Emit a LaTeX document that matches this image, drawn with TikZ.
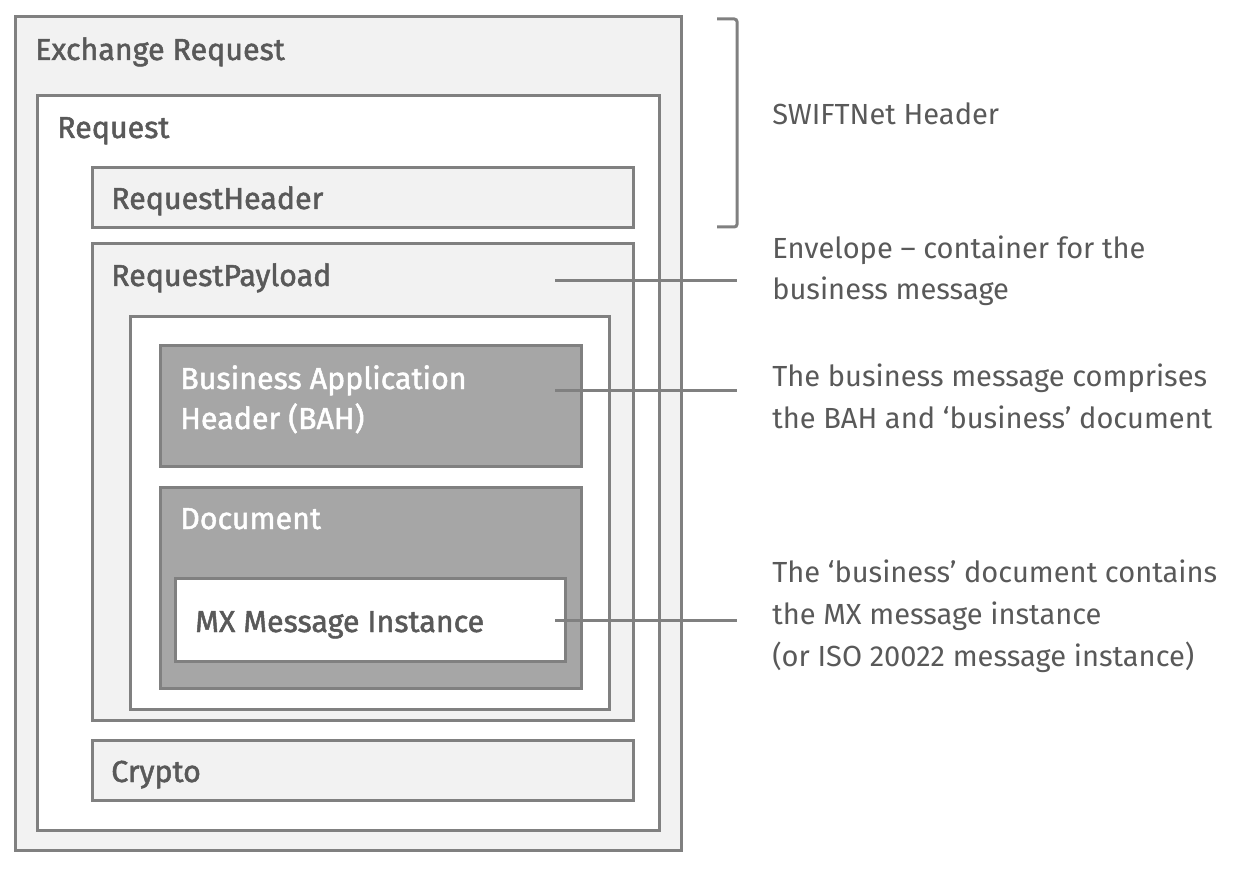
\documentclass[tikz,border=0pt]{standalone}
\usepackage{fontspec}
\setmainfont{Fira Sans}
\newfontfamily\labelfont[FakeBold=1.6]{Fira Sans}
\definecolor{edgegray}{HTML}{808080}
\definecolor{palegray}{HTML}{F2F2F2}
\definecolor{darkgray}{HTML}{A6A6A6}
\definecolor{textgray}{HTML}{595959}
\tikzset{
  box/.style={draw=edgegray,line width=2.25pt,anchor=north west,inner sep=0pt,outer sep=0pt},
  pale/.style={box,fill=palegray},
  blank/.style={box,fill=white},
  dark/.style={box,fill=darkgray},
  lbl/.style={anchor=base west,inner sep=0pt,text=textgray,font=\labelfont\fontsize{22.8}{30}\selectfont},
  whitelbl/.style={lbl,text=white,align=left},
  note/.style={anchor=base west,inner sep=0pt,text=textgray,align=left,font=\fontsize{21.8}{31.5}\selectfont},
  link/.style={draw=edgegray,line width=2.25pt}
}
\begin{document}
\begin{tikzpicture}[x=0.75pt,y=-0.75pt]
  \useasboundingbox (0,0) rectangle (1236,870);
  % nested boxes
  \node[pale,minimum width=499.5pt,minimum height=624.75pt] (exch) at (15,17) {};
  \node[blank,minimum width=466.5pt,minimum height=550.5pt] (req) at (37,96) {};
  \node[pale,minimum width=405.75pt,minimum height=45pt] (rhead) at (92,168) {};
  \node[pale,minimum width=405.75pt,minimum height=357pt] (rpay) at (92,244) {};
  \node[blank,minimum width=359.25pt,minimum height=294.75pt] (env) at (130,316) {};
  \node[dark,minimum width=315.75pt,minimum height=90.75pt] (bah) at (160,345) {};
  \node[dark,minimum width=315.75pt,minimum height=150.75pt] (doc) at (160,487) {};
  \node[blank,minimum width=292.5pt,minimum height=62.25pt] (mx) at (175,578) {};
  \node[pale,minimum width=405.75pt,minimum height=45pt] (crypto) at (92,740) {};
  % box labels
  \node[lbl] at (35,60) {Exchange Request};
  \node[lbl] at (57,138) {Request};
  \node[lbl] at (111,209) {RequestHeader};
  \node[lbl] at (111,286) {RequestPayload};
  \node[whitelbl] at (180,429) {Business Application\\Header (BAH)};
  \node[whitelbl] at (180,529) {Document};
  \node[lbl] at (195,632) {MX Message Instance};
  \node[lbl] at (111,782) {Crypto};
  % notes on the right
  \node[note] (swift) at (772,125) {SWIFTNet Header};
  \node[note] (envnote) at (772,300) {Envelope -- container for the\\business message};
  \node[note] (bahnote) at (772,428) {The business message comprises\\the BAH and `business' document};
  \node[note] (mxnote) at (772,666) {The `business' document contains\\the MX message instance\\(or ISO 20022 message instance)};
  % bracket
  \draw[link,rounded corners=2pt] (717,19) -- (737,19) -- (737,227) -- (717,227);
  % connectors
  \coordinate (envend) at (737,281);
  \coordinate (bahend) at (737,390);
  \coordinate (mxend) at (737,620);
  \draw[link] (555,281) -- (envend);
  \draw[link] (555,390) -- (bahend);
  \draw[link] (555,620) -- (mxend);
\end{tikzpicture}
\end{document}
